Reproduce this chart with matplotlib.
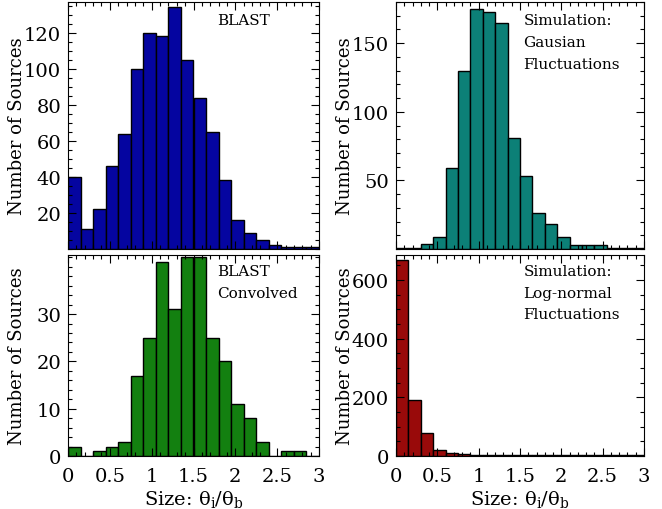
import numpy as np
import matplotlib as mpl
mpl.use('Agg')
import matplotlib.pyplot as plt
from matplotlib.ticker import MultipleLocator

plt.rcParams['font.family'] = 'DejaVu Serif'
plt.rcParams['mathtext.fontset'] = 'dejavuserif'

# 20 bins of width 0.15 in theta_i / theta_b, from 0 to 3
bin_width = 0.15
blast = [40, 11, 22, 46, 64, 100, 120, 118, 134, 105, 84, 65, 38, 16, 9, 5, 2, 1, 1, 1]
gauss = [1, 1, 4, 9, 59, 130, 175, 173, 165, 81, 53, 26, 18, 9, 3, 3, 3, 1, 1, 1]
blast_conv = [2, 0, 1, 2, 3, 17, 25, 41, 31, 42, 42, 25, 20, 11, 8, 3, 0, 1, 1, 0]
lognorm = [668, 192, 80, 20, 9, 6, 2, 2, 2, 2, 2, 2, 2, 2, 2, 2, 2, 2, 2, 2]

panels = [
    (blast, '#0505a0', ['BLAST'], (0, 137), [20, 40, 60, 80, 100, 120], 5),
    (gauss, '#0c8077', ['Simulation:', 'Gausian', 'Fluctuations'], (0, 180), [50, 100, 150], 10),
    (blast_conv, '#138010', ['BLAST', 'Convolved'], (0, 42.5), [0, 10, 20, 30], 2),
    (lognorm, '#990a0a', ['Simulation:', 'Log-normal', 'Fluctuations'], (0, 685), [0, 200, 400, 600], 50),
]

W, H = 662, 510
fig = plt.figure(figsize=(W / 100, H / 100), dpi=100)
boxes = [
    (68, 3, 319, 250),
    (396, 3, 644, 250),
    (68, 256, 319, 457),
    (396, 256, 644, 457),
]

x_major = [0, 0.5, 1, 1.5, 2, 2.5, 3]
x_labels = ['0', '0.5', '1', '1.5', '2', '2.5', '3']

for i, ((counts, color, note, ylim, yt, ymin), (x0, y0, x1, y1)) in enumerate(zip(panels, boxes)):
    ax = fig.add_axes([x0 / W, 1 - y1 / H, (x1 - x0) / W, (y1 - y0) / H])
    lefts = np.arange(len(counts)) * bin_width
    ax.bar(lefts, counts, width=bin_width, align='edge', color=color,
           edgecolor='black', linewidth=1.0)
    ax.set_xlim(0, 3)
    ax.set_ylim(*ylim)
    ax.set_xticks(x_major)
    ax.xaxis.set_minor_locator(MultipleLocator(0.1))
    ax.set_yticks(yt)
    ax.yaxis.set_minor_locator(MultipleLocator(ymin))
    ax.tick_params(which='both', direction='in', top=True, right=True, labelsize=14)
    ax.tick_params(which='major', length=6, width=0.8)
    ax.tick_params(which='minor', length=3, width=0.8)
    ax.tick_params(axis='x', pad=8)
    ax.tick_params(axis='y', pad=5)
    if i < 2:
        ax.set_xticklabels([])
    else:
        ax.set_xticklabels(x_labels)
        ax.set_xlabel('Size: θ$_{\\rm i}$/θ$_{\\rm b}$', fontsize=14, labelpad=2)
    ax.set_ylabel('Number of Sources', fontsize=13)
    # same label offset (px) for both columns
    ax.yaxis.set_label_coords(-42 / (x1 - x0), 0.5)
    tx = 1.78 if i % 2 == 0 else 1.54
    ax.text(tx, 0.955, '\n'.join(note), transform=ax.get_xaxis_transform(),
            ha='left', va='top', fontsize=11, linespacing=1.7)

fig.savefig('out.png', dpi=100)
